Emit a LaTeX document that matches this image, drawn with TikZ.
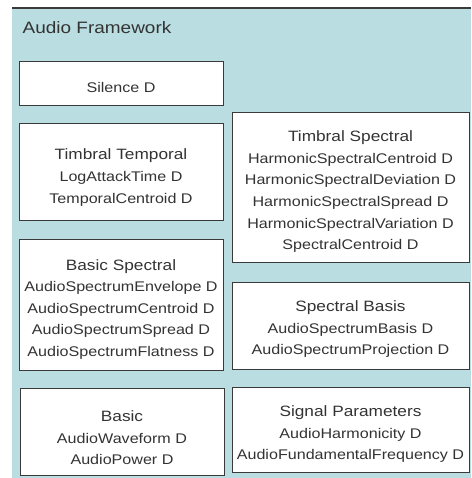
\documentclass[tikz,border=0pt]{standalone}
\usepackage{fontspec}
\setmainfont{Liberation Sans}[FakeStretch=1.15]
\definecolor{panelc}{HTML}{B9DDE0}
\definecolor{edgec}{HTML}{3A3A3A}
\definecolor{txtc}{HTML}{333333}
\newcommand\bodyfnt{\fontsize{14}{21.6}\selectfont}
\newcommand\hdfnt{\fontsize{15}{21.6}\selectfont}
\newcommand\titlefnt{\fontsize{16.5}{20}\selectfont}
\tikzset{
  panel/.style={fill=panelc},
  boxnode/.style={draw=edgec, line width=1pt, fill=white, inner sep=0pt, outer sep=0pt, anchor=north west},
  lines/.style={anchor=base, inner sep=0pt, text=txtc, font=\bodyfnt},
}
\begin{document}
\begin{tikzpicture}[x=1pt,y=-1pt]
\useasboundingbox (0,0) rectangle (471,478);
\fill[panel] (12,8) rectangle (471,478);
\draw[edgec, line width=1.5pt] (12,8) -- (471,8);
\node[anchor=base west, inner sep=0pt, text=txtc, font=\titlefnt] (title) at (22.5,34) {Audio Framework};

% boxes
\node[boxnode, minimum width=204pt, minimum height=44pt] (silence) at (19,62) {};
\node[boxnode, minimum width=204pt, minimum height=96pt] (tt) at (19,124) {};
\node[boxnode, minimum width=204pt, minimum height=131pt] (bs) at (19,239) {};
\node[boxnode, minimum width=204pt, minimum height=87pt] (basic) at (20,388) {};
\node[boxnode, minimum width=237pt, minimum height=149pt] (ts) at (232,113) {};
\node[boxnode, minimum width=237pt, minimum height=87pt] (sb) at (232,282) {};
\node[boxnode, minimum width=237pt, minimum height=85pt] (sp) at (232,387) {};

% texts
\node[lines] (silenceT) at (121,93) {Silence D};
\node[lines] (ttT) at (121,160) {\begin{tabular}[t]{@{}c@{}}{\hdfnt Timbral Temporal}\\ LogAttackTime D\\ TemporalCentroid D\end{tabular}};
\node[lines] (bsT) at (121,270) {\begin{tabular}[t]{@{}c@{}}{\hdfnt Basic Spectral}\\ AudioSpectrumEnvelope D\\ AudioSpectrumCentroid D\\ AudioSpectrumSpread D\\ AudioSpectrumFlatness D\end{tabular}};
\node[lines] (basicT) at (122,421.7) {\begin{tabular}[t]{@{}c@{}}{\hdfnt Basic}\\ AudioWaveform D\\ AudioPower D\end{tabular}};
\node[lines] (tsT) at (350.5,141.7) {\begin{tabular}[t]{@{}c@{}}{\hdfnt Timbral Spectral}\\ HarmonicSpectralCentroid D\\ HarmonicSpectralDeviation D\\ HarmonicSpectralSpread D\\ HarmonicSpectralVariation D\\ SpectralCentroid D\end{tabular}};
\node[lines] (sbT) at (350.5,311.7) {\begin{tabular}[t]{@{}c@{}}{\hdfnt Spectral Basis}\\ AudioSpectrumBasis D\\ AudioSpectrumProjection D\end{tabular}};
\node[lines] (spT) at (350.5,416.7) {\begin{tabular}[t]{@{}c@{}}{\hdfnt Signal Parameters}\\ AudioHarmonicity D\\ AudioFundamentalFrequency D\end{tabular}};
\end{tikzpicture}
\end{document}
